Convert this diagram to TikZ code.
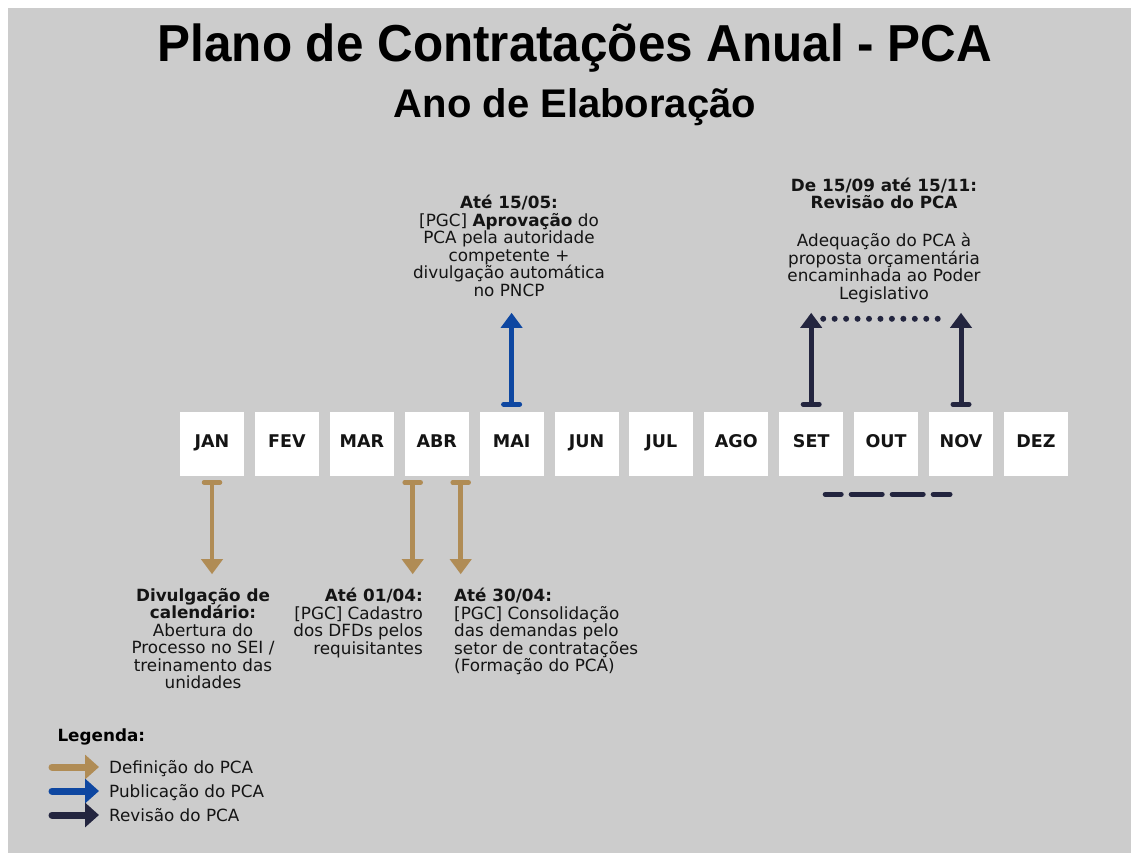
\documentclass[tikz,border=0pt]{standalone}
\usepackage{fontspec}
\usepackage{graphicx}
\setmainfont{DejaVu Sans}
\newfontfamily\titlefont{Liberation Sans}
\usetikzlibrary{arrows.meta,positioning,calc}
\definecolor{bgray}{HTML}{CCCCCC}
\definecolor{deftan}{HTML}{B08C55}
\definecolor{pubblue}{HTML}{0E47A1}
\definecolor{revnavy}{HTML}{23253F}
\definecolor{ink}{HTML}{141414}

\begin{document}
\begin{tikzpicture}[x=1pt, y=-1pt,
    month/.style={fill=white, minimum size=64pt, inner sep=0pt, text=ink, text height=12.6pt, text depth=5pt, font=\fontsize{17.5}{20}\selectfont\bfseries},
    note/.style={inner sep=0pt, align=center, text=ink, font=\fontsize{16.8}{17.5}\selectfont},
    arr/.style={line width=5pt, {Bar[width=16pt,round]}-{Triangle[width=21pt,length=15pt]}},
    defarr/.style={arr, deftan, line width=4.5pt},
    pubarr/.style={arr, pubblue},
    revarr/.style={arr, revnavy},
    legarr/.style={line width=7pt, line cap=round, -{Triangle[width=24pt,length=14pt]}}
]
\fill[white] (0,0) rectangle (1131,853);
\fill[bgray] (8,8) rectangle (1131,853);

% titles
\node[anchor=base, text=black, font=\titlefont\bfseries\fontsize{52}{56}\selectfont] (title) at (575,62) {\scalebox{0.95}[1]{Plano de Contratações Anual - PCA}};
\node[anchor=base, text=black, font=\titlefont\bfseries\fontsize{40}{44}\selectfont] (subtitle) at (575,118) {Ano de Elaboração};

% months
\foreach \m [count=\i from 0] in {JAN,FEV,MAR,ABR,MAI,JUN,JUL,AGO,SET,OUT,NOV,DEZ}
    \node[month] (\m) at (212+74.9*\i,444) {\m};

% definição
\node[note, anchor=north] (caltxt) at (203,588) {\textbf{Divulgação de}\\\textbf{calendário:}\\Abertura do\\Processo no SEI /\\treinamento das\\unidades};
\node[note, anchor=north east, align=right] (cadtxt) at (423,588) {\textbf{Até 01/04:}\\{}[PGC] Cadastro\\dos DFDs pelos\\requisitantes};
\node[note, anchor=north west, align=left] (contxt) at (454,588) {\textbf{Até 30/04:}\\{}[PGC] Consolidação\\das demandas pelo\\setor de contratações\\(Formação do PCA)};
\coordinate (caltip) at ([yshift=-98pt]JAN.south);
\coordinate (cadtip) at ([xshift=-24pt,yshift=-98pt]ABR.south);
\coordinate (contip) at ([xshift=24pt,yshift=-98pt]ABR.south);
\draw[defarr] ([yshift=-4pt]JAN.south) -- (caltip);
\draw[defarr] ([xshift=-24pt,yshift=-4pt]ABR.south) -- (cadtip);
\draw[defarr] ([xshift=24pt,yshift=-4pt]ABR.south) -- (contip);

% publicação
\node[note, anchor=north] (pubtxt) at (509,195) {\textbf{Até 15/05:}\\{}[PGC] \textbf{Aprovação} do\\PCA pela autoridade\\competente +\\divulgação automática\\no PNCP};
\coordinate (pubtip) at ([yshift=99pt]MAI.north);
\draw[pubarr] ([yshift=5pt]MAI.north) -- (pubtip);

% revisão
\node[note, anchor=north, font=\fontsize{16.8}{16.5}\selectfont\bfseries] (revhead) at (884,178) {De 15/09 até 15/11:\\Revisão do PCA};
\node[note, anchor=north] (revtxt) at (884,233) {Adequação do PCA à\\proposta orçamentária\\encaminhada ao Poder\\Legislativo};
\coordinate (settip) at ([yshift=99pt]SET.north);
\coordinate (novtip) at ([yshift=99pt]NOV.north);
\draw[revarr] ([yshift=5pt]SET.north) -- (settip);
\draw[revarr] ([yshift=5pt]NOV.north) -- (novtip);
\draw[revnavy, line width=6pt, line cap=round, dash pattern=on 0pt off 11.45pt] ([shift={(12,6)}]settip) -- ([shift={(-12,6)}]novtip);
\draw[revnavy, line width=5pt, line cap=round, dash pattern=on 31pt off 10pt, dash phase=15pt] ([shift={(14,18)}]SET.south) -- ([shift={(-11,18)}]NOV.south);

% legenda
\node[anchor=base west, text=black, font=\fontsize{16.8}{17.5}\selectfont\bfseries] (leg) at (54,741) {Legenda:};
\foreach \c/\t [count=\k from 0] in {deftan/Definição do PCA, pubblue/Publicação do PCA, revnavy/Revisão do PCA} {
    \node[note, anchor=base west] (leg\k) at (109,773+24*\k) {\t};
    \draw[legarr, \c] (52,767+24*\k) -- (99,767+24*\k);
}
\end{tikzpicture}
\end{document}
